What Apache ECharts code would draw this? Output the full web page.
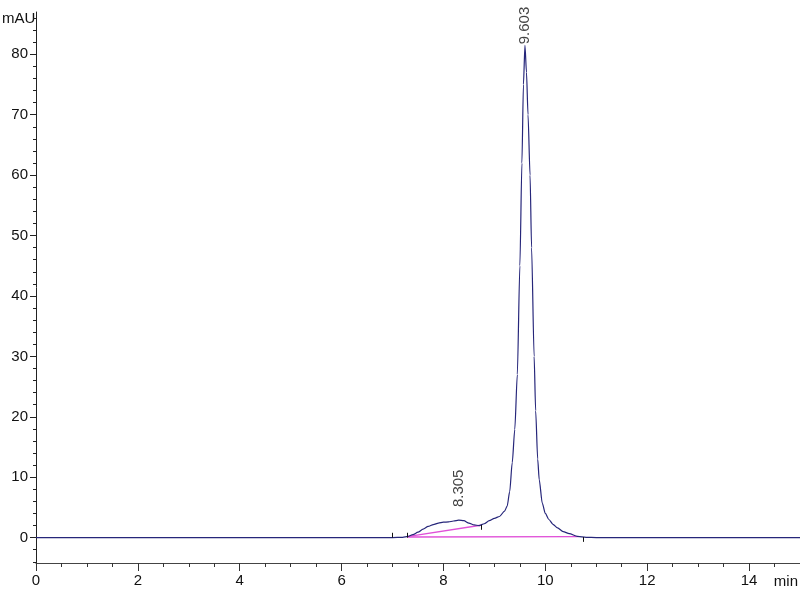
<!DOCTYPE html>
<html><head><meta charset="utf-8">
<script src="https://cdn.jsdelivr.net/npm/echarts@6/dist/echarts.min.js"></script>
<style>html,body{margin:0;padding:0;background:#fff}#c{width:800px;height:600px}</style>
</head><body><div id="c"></div>
<script>
// Chromatogram trace (retention time in min, absorbance in mAU)
const timeMin = [0, 1, 2, 3, 4, 5, 6, 7.0, 7.2, 7.3, 7.4, 7.5, 7.6, 7.7, 7.8, 7.9, 8.0, 8.1, 8.2, 8.3, 8.4, 8.5, 8.6, 8.7, 8.8, 8.9, 9.0, 9.1, 9.2, 9.25, 9.3, 9.35, 9.4, 9.45, 9.5, 9.54, 9.57, 9.6, 9.63, 9.66, 9.7, 9.73, 9.78, 9.81, 9.85, 9.88, 9.94, 10.0, 10.07, 10.15, 10.24, 10.35, 10.47, 10.63, 10.8, 11, 12, 13, 14, 15];
const signal  = [0, 0, 0, 0, 0, 0, 0, 0, 0.05, 0.2, 0.5, 0.9, 1.4, 1.85, 2.15, 2.4, 2.55, 2.6, 2.75, 2.9, 2.8, 2.4, 2.1, 2.0, 2.3, 2.8, 3.2, 3.5, 4.4, 5.2, 7.6, 12.4, 17.9, 27, 45, 62, 75, 81.5, 77, 70, 60, 48, 30, 21, 13, 9.6, 5.7, 4.0, 3.0, 2.2, 1.6, 1.0, 0.66, 0.2, 0.05, 0, 0, 0, 0, 0];
// Integration baselines
const baseA_t = [7.29, 8.73], baseA_v = [0.15, 2.05];
const baseB_t = [7.29, 10.65], baseB_v = [0.1, 0.15];
// Peak labels
const peakTimes = [8.305, 9.603];
const peakHeights = [2.9, 81.5];
const peakNames = ['8.305', '9.603'];
// Integration event marks
const eventTimes = [7.0, 7.29, 8.75, 10.74];
const eventFrom  = [0, 0, 2.1, 0.1];
const eventTo    = [0.8, 0.8, 1.3, -0.7];
// Axis ticks
const xTicks = [0, 2, 4, 6, 8, 10, 12, 14];
const yTicks = [0, 10, 20, 30, 40, 50, 60, 70, 80];
const yMinorTicks = [-4, -2, 2, 4, 6, 8, 12, 14, 16, 18, 22, 24, 26, 28, 32, 34, 36, 38, 42, 44, 46, 48, 52, 54, 56, 58, 62, 64, 66, 68, 72, 74, 76, 78, 82, 84, 86];

const FONT = "'Liberation Sans Narrow', 'Liberation Sans', Arial, sans-serif";
const chart = echarts.init(document.getElementById('c'), null, {renderer: 'canvas'});
const pair = (a, b) => a.map((t, i) => [t, b[i]]);

chart.setOption({
  animation: false,
  backgroundColor: '#fff',
  grid: {left: 36, right: 0, top: 12, bottom: 37, containLabel: false},
  xAxis: {
    type: 'value', min: 0, max: 15, interval: 2,
    axisLine: {onZero: false, lineStyle: {color: '#444', width: 1}},
    axisTick: {length: 8, lineStyle: {color: '#333'}},
    minorTick: {show: true, splitNumber: 4, length: 4, lineStyle: {color: '#333'}},
    splitLine: {show: false},
    axisLabel: {customValues: xTicks, margin: 10, color: '#111', fontSize: 15, fontFamily: FONT,
      formatter: v => (xTicks.indexOf(v) >= 0 ? String(v) : '')}
  },
  yAxis: [{
    type: 'value', min: -4.2, max: 87,
    axisLine: {show: true, lineStyle: {color: '#222', width: 1}},
    axisTick: {show: true, length: 6, customValues: yTicks, lineStyle: {color: '#222'}},
    splitLine: {show: false},
    axisLabel: {customValues: yTicks, margin: 8, color: '#111', fontSize: 15, fontFamily: FONT}
  }, {
    type: 'value', min: -4.2, max: 87, position: 'left',
    axisLine: {show: false},
    axisTick: {show: true, length: 3, customValues: yMinorTicks, lineStyle: {color: '#222'}},
    splitLine: {show: false},
    axisLabel: {show: false}
  }],
  graphic: [
    {type: 'text', left: 2, top: 11, style: {text: 'mAU', fontSize: 15, fontFamily: FONT, fill: '#111'}},
    {type: 'text', right: 2, top: 574, style: {text: 'min', fontSize: 15, fontFamily: FONT, fill: '#111'}}
  ],
  series: [
    {
      type: 'line', data: pair(baseB_t, baseB_v), symbol: 'none', silent: true,
      lineStyle: {color: '#e050d8', width: 1.3}, z: 2
    },
    {
      type: 'line', data: pair(baseA_t, baseA_v), symbol: 'none', silent: true,
      lineStyle: {color: '#e050d8', width: 1.3}, z: 2
    },
    {
      type: 'line', data: pair(timeMin, signal), symbol: 'none', smooth: 0.25, smoothMonotone: 'x',
      lineStyle: {color: '#26267a', width: 1.2}, z: 3,
      markLine: {
        silent: true, symbol: 'none', label: {show: false},
        lineStyle: {color: '#111', width: 1, type: 'solid'},
        data: eventTimes.map((t, i) => [{coord: [t, eventFrom[i]]}, {coord: [t, eventTo[i]]}])
      }
    },
    {
      type: 'scatter', symbolSize: 0, silent: true, z: 4,
      data: peakTimes.map((t, i) => ({
        value: [t, peakHeights[i]], name: peakNames[i],
        label: {distance: i === 0 ? 13 : 1}
      })),
      label: {
        show: true, position: 'top', rotate: 90, align: 'left', verticalAlign: 'middle',
        formatter: p => p.name, fontSize: 15, fontFamily: FONT, color: '#111'
      }
    }
  ]
});
</script></body></html>
